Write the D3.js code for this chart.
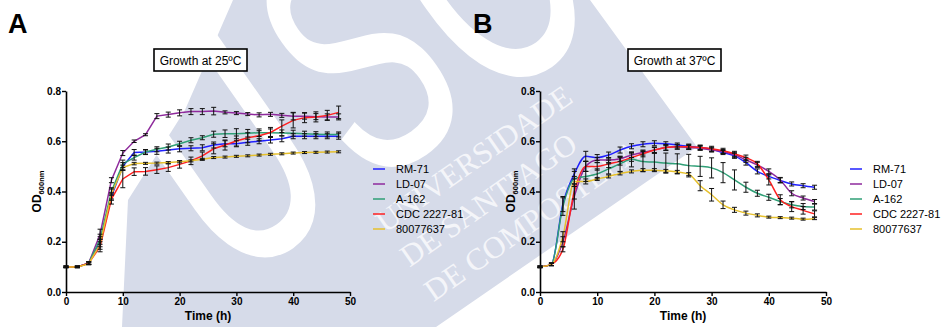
<!DOCTYPE html>
<html>
<head>
<meta charset="utf-8">
<script src="https://cdn.jsdelivr.net/npm/d3@7"></script>
<style>
  body { margin: 0; background: #fff; }
  svg { display: block; font-family: "Liberation Sans", Arial, sans-serif; }
</style>
</head>
<body>
<div id="chart"></div>
<script>
const WIDTH = 949, HEIGHT = 327;

// sampling times (h)
const times = [0, 2, 4, 6, 8, 10, 12, 14, 16, 18, 20, 22, 24, 26, 28, 30, 32, 34, 36, 38, 40, 42, 44, 46, 48];
const strains = ["RM-71", "LD-07", "A-162", "CDC 2227-81", "80077637"];
const colors = ["#2020ff", "#8e2a9c", "#2f9f76", "#ff2020", "#e6c02c"];
const yTicks = [0, 0.2, 0.4, 0.6, 0.8];
const xTicks = [0, 10, 20, 30, 40, 50];

// growth at 25ºC, mean OD600
const rm71_25 = [0.10, 0.10, 0.115, 0.20, 0.38, 0.50, 0.555, 0.557, 0.56, 0.565, 0.57, 0.572, 0.574, 0.585, 0.59, 0.59, 0.596, 0.60, 0.605, 0.61, 0.62, 0.62, 0.62, 0.62, 0.62];
const ld07_25 = [0.10, 0.10, 0.115, 0.23, 0.445, 0.553, 0.60, 0.626, 0.70, 0.706, 0.713, 0.718, 0.718, 0.72, 0.715, 0.712, 0.708, 0.705, 0.707, 0.703, 0.70, 0.70, 0.698, 0.697, 0.697];
const a162_25 = [0.10, 0.10, 0.115, 0.21, 0.40, 0.51, 0.535, 0.557, 0.568, 0.577, 0.59, 0.604, 0.614, 0.628, 0.63, 0.63, 0.632, 0.634, 0.634, 0.633, 0.632, 0.63, 0.628, 0.627, 0.627];
const cdc_25 = [0.10, 0.10, 0.115, 0.18, 0.37, 0.45, 0.479, 0.48, 0.487, 0.495, 0.508, 0.522, 0.542, 0.57, 0.585, 0.601, 0.614, 0.622, 0.635, 0.66, 0.683, 0.694, 0.697, 0.703, 0.715];
const s800_25 = [0.10, 0.10, 0.112, 0.19, 0.39, 0.495, 0.511, 0.512, 0.513, 0.515, 0.518, 0.522, 0.528, 0.535, 0.537, 0.54, 0.542, 0.545, 0.548, 0.55, 0.553, 0.555, 0.556, 0.557, 0.558];
// SD
const rm71_25sd = [0.003, 0.003, 0.005, 0.02, 0.015, 0.015, 0.012, 0.01, 0.012, 0.012, 0.012, 0.01, 0.012, 0.012, 0.012, 0.012, 0.012, 0.01, 0.012, 0.012, 0.01, 0.01, 0.01, 0.01, 0.012];
const ld07_25sd = [0.003, 0.003, 0.005, 0.02, 0.01, 0.01, 0.005, 0.004, 0.01, 0.01, 0.012, 0.012, 0.012, 0.015, 0.006, 0.006, 0.006, 0.008, 0.008, 0.008, 0.015, 0.012, 0.012, 0.012, 0.012];
const a162_25sd = [0.003, 0.003, 0.005, 0.02, 0.015, 0.015, 0.01, 0.008, 0.01, 0.012, 0.01, 0.01, 0.008, 0.012, 0.015, 0.02, 0.015, 0.015, 0.015, 0.012, 0.012, 0.01, 0.01, 0.01, 0.01];
const cdc_25sd = [0.003, 0.003, 0.005, 0.02, 0.02, 0.035, 0.015, 0.015, 0.015, 0.015, 0.015, 0.015, 0.015, 0.02, 0.02, 0.02, 0.02, 0.02, 0.02, 0.025, 0.03, 0.02, 0.02, 0.02, 0.025];
const s800_25sd = [0.003, 0.003, 0.004, 0.02, 0.02, 0.01, 0.005, 0.004, 0.004, 0.004, 0.004, 0.004, 0.004, 0.004, 0.004, 0.004, 0.004, 0.004, 0.004, 0.004, 0.004, 0.004, 0.004, 0.004, 0.004];

// growth at 37ºC, mean OD600
const rm71_37 = [0.10, 0.11, 0.35, 0.47, 0.54, 0.535, 0.545, 0.565, 0.58, 0.588, 0.592, 0.59, 0.585, 0.58, 0.575, 0.568, 0.555, 0.542, 0.515, 0.48, 0.46, 0.444, 0.43, 0.423, 0.417];
const ld07_37 = [0.10, 0.11, 0.20, 0.38, 0.50, 0.525, 0.525, 0.53, 0.545, 0.555, 0.565, 0.575, 0.578, 0.575, 0.572, 0.565, 0.559, 0.546, 0.526, 0.506, 0.48, 0.446, 0.393, 0.374, 0.36];
const a162_37 = [0.10, 0.11, 0.34, 0.45, 0.46, 0.47, 0.49, 0.51, 0.528, 0.519, 0.517, 0.513, 0.51, 0.503, 0.50, 0.494, 0.475, 0.446, 0.417, 0.393, 0.377, 0.36, 0.347, 0.34, 0.338];
const cdc_37 = [0.10, 0.11, 0.17, 0.40, 0.50, 0.50, 0.51, 0.52, 0.535, 0.55, 0.565, 0.575, 0.578, 0.578, 0.575, 0.57, 0.562, 0.55, 0.535, 0.51, 0.446, 0.367, 0.34, 0.325, 0.311];
const s800_37 = [0.10, 0.11, 0.22, 0.44, 0.44, 0.45, 0.46, 0.472, 0.48, 0.485, 0.485, 0.482, 0.478, 0.469, 0.423, 0.387, 0.347, 0.327, 0.314, 0.305, 0.298, 0.296, 0.294, 0.29, 0.292];
// SD
const rm71_37sd = [0.003, 0.005, 0.03, 0.02, 0.02, 0.012, 0.012, 0.012, 0.01, 0.01, 0.01, 0.008, 0.008, 0.008, 0.008, 0.008, 0.008, 0.01, 0.01, 0.01, 0.01, 0.01, 0.008, 0.008, 0.008];
const ld07_37sd = [0.003, 0.005, 0.02, 0.05, 0.02, 0.01, 0.01, 0.01, 0.01, 0.01, 0.01, 0.01, 0.008, 0.008, 0.008, 0.008, 0.008, 0.01, 0.01, 0.01, 0.01, 0.01, 0.01, 0.008, 0.008];
const a162_37sd = [0.003, 0.005, 0.035, 0.03, 0.02, 0.02, 0.02, 0.03, 0.03, 0.04, 0.035, 0.04, 0.04, 0.045, 0.04, 0.04, 0.04, 0.04, 0.02, 0.012, 0.012, 0.012, 0.012, 0.012, 0.012];
const cdc_37sd = [0.003, 0.005, 0.01, 0.03, 0.02, 0.015, 0.015, 0.015, 0.015, 0.012, 0.012, 0.012, 0.01, 0.01, 0.01, 0.01, 0.01, 0.01, 0.01, 0.01, 0.02, 0.02, 0.02, 0.015, 0.012];
const s800_37sd = [0.003, 0.005, 0.02, 0.02, 0.01, 0.006, 0.006, 0.006, 0.006, 0.006, 0.006, 0.006, 0.006, 0.006, 0.02, 0.025, 0.015, 0.01, 0.008, 0.006, 0.004, 0.004, 0.004, 0.004, 0.004];

const svg = d3.select("#chart").append("svg")
    .attr("width", WIDTH)
    .attr("height", HEIGHT);

// watermark (university logo) behind everything: thin white letters on a light block
const WM = "#d6dbe9";
svg.append("path")
    .attr("d", "M233,0 L590,0 L697,147 L436,327 L122,327 L128,200 L185,110 Z")
    .attr("fill", WM);
const wm = svg.append("g")
    .attr("transform", "translate(357,97) rotate(-35)");
[["U", -212], ["S", -45], ["C", 98]].forEach(([ch, u]) => {
    wm.append("text")
        .attr("transform", "translate(" + u + ",82) scale(0.62,1)")
        .attr("font-family", "Liberation Sans, Arial, sans-serif")
        .attr("font-size", 330)
        .attr("fill", "#fff")
        .attr("stroke", "#fff")
        .attr("stroke-width", 4)
        .text(ch);
});
["UNIVERSIDADE", "DE SANTIAGO", "DE COMPOSTELA"].forEach((s, i) => {
    wm.append("text")
        .attr("x", -55).attr("y", 128 + i * 42)
        .attr("font-family", "Liberation Serif, Times New Roman, serif")
        .attr("font-size", 31)
        .attr("fill", "#f4f5f9")
        .text(s);
});

const panels = [
    { letter: "A", letterX: 8, left: 66, right: 350, title: "Growth at 25ºC", titleX: 154, legX: 373,
      curve: d3.curveLinear,
      means: [rm71_25, ld07_25, a162_25, cdc_25, s800_25],
      sds: [rm71_25sd, ld07_25sd, a162_25sd, cdc_25sd, s800_25sd] },
    { letter: "B", letterX: 473, left: 540, right: 826, title: "Growth at 37ºC", titleX: 628, legX: 850,
      curve: d3.curveMonotoneX,
      means: [rm71_37, ld07_37, a162_37, cdc_37, s800_37],
      sds: [rm71_37sd, ld07_37sd, a162_37sd, cdc_37sd, s800_37sd] }
];

const TOP = 91, BOTTOM = 292;

panels.forEach((p) => {
    const g = svg.append("g");
    const x = d3.scaleLinear().domain([0, 50]).range([p.left, p.right]);
    const y = d3.scaleLinear().domain([0, 0.8]).range([BOTTOM, TOP]);

    // panel letter
    g.append("text")
        .attr("x", p.letterX).attr("y", 33)
        .attr("font-size", 27).attr("font-weight", "bold")
        .text(p.letter);

    // title box
    g.append("rect")
        .attr("x", p.titleX).attr("y", 49)
        .attr("width", 93).attr("height", 22)
        .attr("fill", "#fff").attr("stroke", "#000").attr("stroke-width", 1.6);
    g.append("text")
        .attr("x", p.titleX + 46.5).attr("y", 64.5)
        .attr("text-anchor", "middle")
        .attr("font-size", 12)
        .text(p.title);

    // axes
    const yAxis = g.append("g")
        .attr("transform", "translate(" + p.left + ",0)")
        .call(d3.axisLeft(y).tickValues(yTicks).tickFormat(d3.format(".1f")).tickSize(4).tickSizeOuter(0).tickPadding(1));
    const xAxis = g.append("g")
        .attr("transform", "translate(0," + BOTTOM + ")")
        .call(d3.axisBottom(x).tickValues(xTicks).tickSize(4).tickSizeOuter(0).tickPadding(2));
    [yAxis, xAxis].forEach((a) => {
        a.select(".domain").attr("stroke-width", 1.6);
        a.selectAll(".tick line").attr("stroke-width", 1.4);
        a.selectAll(".tick text").attr("font-size", 10).attr("font-weight", "bold")
            .attr("font-family", "Liberation Sans, Arial, sans-serif").attr("fill", "#000");
    });

    g.append("text")
        .attr("x", (p.left + p.right) / 2).attr("y", 320)
        .attr("text-anchor", "middle")
        .attr("font-size", 12).attr("font-weight", "bold")
        .text("Time (h)");

    const od = g.append("text")
        .attr("transform", "translate(" + (p.left - 25) + "," + ((TOP + BOTTOM) / 2) + ") rotate(-90)")
        .attr("text-anchor", "middle")
        .attr("font-weight", "bold");
    od.append("tspan").attr("font-size", 12).text("OD");
    od.append("tspan").attr("font-size", 7.5).attr("dy", 2.5).text("600nm");

    // lines
    const line = d3.line()
        .x((d, i) => x(times[i]))
        .y((d) => y(d))
        .curve(p.curve);
    p.means.forEach((m, k) => {
        g.append("path")
            .datum(m)
            .attr("d", line)
            .attr("fill", "none")
            .attr("stroke", colors[k])
            .attr("stroke-width", 1.5);
    });

    // error bars
    p.means.forEach((m, k) => {
        const eb = g.append("g").attr("stroke", "#111").attr("stroke-width", 1);
        m.forEach((v, i) => {
            const sd = p.sds[k][i];
            const cx = x(times[i]);
            eb.append("line").attr("x1", cx).attr("x2", cx).attr("y1", y(v - sd)).attr("y2", y(v + sd));
            eb.append("line").attr("x1", cx - 2.5).attr("x2", cx + 2.5).attr("y1", y(v - sd)).attr("y2", y(v - sd));
            eb.append("line").attr("x1", cx - 2.5).attr("x2", cx + 2.5).attr("y1", y(v + sd)).attr("y2", y(v + sd));
        });
    });

    // legend
    strains.forEach((s, k) => {
        const ly = 169 + k * 15;
        g.append("line")
            .attr("x1", p.legX).attr("x2", p.legX + 12)
            .attr("y1", ly).attr("y2", ly)
            .attr("stroke", colors[k]).attr("stroke-width", 1.5);
        g.append("text")
            .attr("x", p.legX + 23).attr("y", ly + 4)
            .attr("font-size", 11)
            .text(s);
    });
});
</script>
</body>
</html>
